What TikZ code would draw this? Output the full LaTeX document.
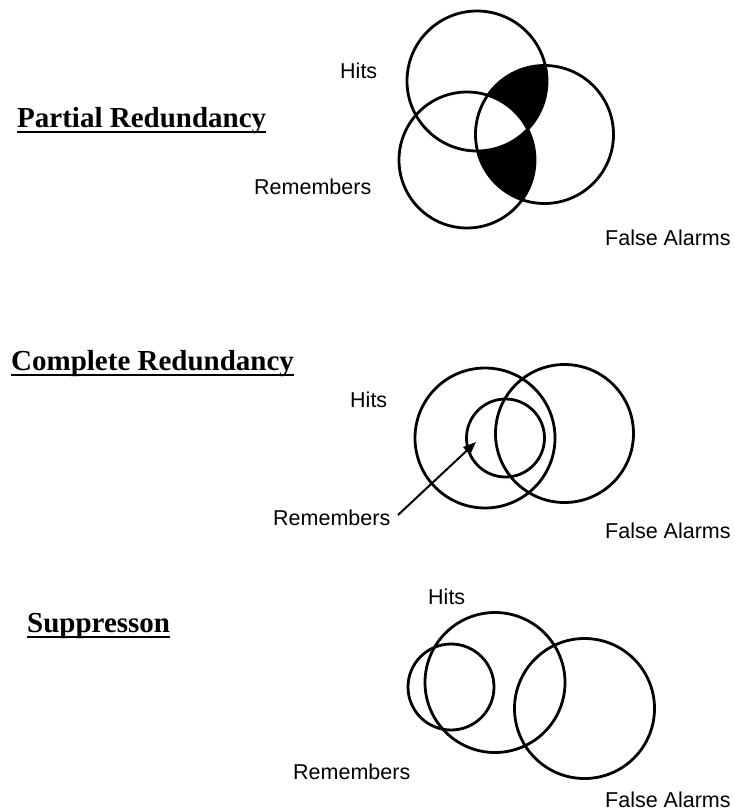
\documentclass[tikz,border=0pt]{standalone}
\usepackage{fontspec}
\setmainfont{Liberation Serif}
\newfontfamily\labelfont{Liberation Sans}
\usetikzlibrary{arrows.meta}
\begin{document}
\begin{tikzpicture}[x=1pt,y=-1pt,
  ring/.style={draw=black,line width=2.8pt},
  lbl/.style={anchor=base west,inner sep=0pt,font=\labelfont\fontsize{21.5}{24}\selectfont},
  title/.style={anchor=base west,inner sep=0pt,font=\bfseries\fontsize{29}{32}\selectfont},
  uline/.style={line width=2.6pt},
  pointer/.style={line width=2pt,-{Triangle[length=13pt,width=10pt]}}]
\useasboundingbox (0,0) rectangle (735,811);

% ---------- Partial Redundancy ----------
\node[title] (t1) at (17,127) {Partial Redundancy};
\draw[uline] ([yshift=-5pt]t1.base west) -- ([yshift=-5pt]t1.base east);
\begin{scope}
  \clip (544.5,134.5) circle (69pt);
  \fill[even odd rule] (477,81) circle (70pt) (467,160) circle (68pt);
\end{scope}
\draw[ring] (477,81) circle (70pt);
\draw[ring] (467,160) circle (68pt);
\draw[ring] (544.5,134.5) circle (69pt);
\node[lbl] (h1) at (340,78) {Hits};
\node[lbl] (r1) at (254,194) {Remembers};
\node[lbl] (f1) at (605,245) {False Alarms};

% ---------- Complete Redundancy ----------
\node[title] (t2) at (11,370) {Complete Redundancy};
\draw[uline] ([yshift=-5pt]t2.base west) -- ([yshift=-5pt]t2.base east);
\draw[ring] (485,438) circle (70pt);
\draw[ring] (564.5,433.5) circle (69pt);
\draw[ring] (505.5,438) circle (39pt);
\node[lbl] (h2) at (350,407) {Hits};
\node[lbl] (r2) at (273,525) {Remembers};
\node[lbl] (f2) at (605,538) {False Alarms};
\coordinate (r2from) at (398,515);
\coordinate (r2to) at (476,442);
\draw[pointer] (r2from) -- (r2to);

% ---------- Suppression ----------
\node[title] (t3) at (27,632) {Suppresson};
\draw[uline] ([yshift=-5pt]t3.base west) -- ([yshift=-5pt]t3.base east);
\draw[ring] (495,682.5) circle (70pt);
\draw[ring] (451,687) circle (43pt);
\draw[ring] (584.5,708.5) circle (70pt);
\node[lbl] (h3) at (428,604) {Hits};
\node[lbl] (r3) at (293,779) {Remembers};
\node[lbl] (f3) at (605,807) {False Alarms};
\end{tikzpicture}
\end{document}
